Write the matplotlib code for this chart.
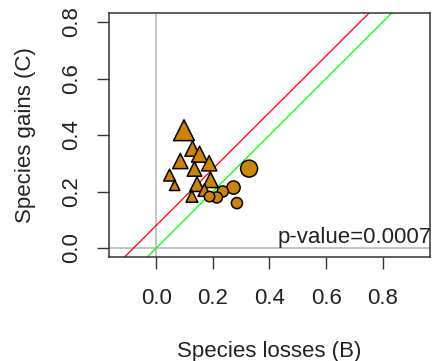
import matplotlib

matplotlib.use("Agg")
import matplotlib.pyplot as plt

plt.rcParams["font.family"] = ["Liberation Sans", "DejaVu Sans"]

# triangles (group 1): losses, gains, marker size
tri_x = [0.098, 0.128, 0.153, 0.085, 0.187, 0.135, 0.047, 0.192, 0.065, 0.144, 0.170, 0.126]
tri_y = [0.417, 0.352, 0.332, 0.308, 0.300, 0.280, 0.258, 0.241, 0.222, 0.226, 0.205, 0.183]
tri_size = [15, 11, 11.5, 11, 11, 10.5, 8.5, 11, 7.5, 10.5, 9, 8.5]

# circles (group 2)
circ_x = [0.328, 0.273, 0.235, 0.214, 0.188, 0.285]
circ_y = [0.281, 0.214, 0.200, 0.179, 0.182, 0.159]
circ_size = [12.2, 9.5, 8, 8, 7.5, 8]

# fitted line (slope 1) and 1:1 reference
fit_intercept = 0.08
ref_intercept = 0.0
p_label = "p-value=0.0007"

fill = "#CD8500"

fig = plt.figure(figsize=(4.32, 3.61), dpi=100)
ax = fig.add_axes([0.2523, 0.288, 0.743, 0.676])

ax.axvline(0, color="#BEBEBE", lw=1.3, zorder=1)
ax.axhline(0, color="#BEBEBE", lw=1.3, zorder=1)
ax.axline((0, fit_intercept), slope=1, color="red", lw=0.9, zorder=2)
ax.axline((0, ref_intercept), slope=1, color="#00FF00", lw=0.9, zorder=2)

ax.scatter(tri_x, tri_y, s=[m ** 2 for m in tri_size], marker="^",
           color=fill, edgecolor="black", linewidth=1.1, zorder=3)
ax.scatter(circ_x, circ_y, s=[m ** 2 for m in circ_size], marker="o",
           color=fill, edgecolor="black", linewidth=1.1, zorder=3)

ax.text(0.70, 0.036, p_label, ha="center", va="center", fontsize=16,
        color="#222222", clip_on=False, zorder=4)

ax.set_xlim(-0.167, 0.967)
ax.set_ylim(-0.032, 0.832)
ticks = [0.0, 0.2, 0.4, 0.6, 0.8]
ax.set_xticks(ticks)
ax.set_yticks(ticks)
ax.set_xticklabels([f"{t:.1f}" for t in ticks])
ax.set_yticklabels([f"{t:.1f}" for t in ticks], rotation=90, va="center")
ax.tick_params(axis="both", direction="out", length=8.6, width=1.0,
               labelsize=16, color="#333333", labelcolor="#222222")
ax.tick_params(axis="x", pad=14)
ax.tick_params(axis="y", pad=10.5)
for sp in ax.spines.values():
    sp.set_linewidth(1.1)
    sp.set_color("#333333")

ax.set_xlabel("Species losses (B)", fontsize=16, color="#222222", labelpad=23)
ax.set_ylabel("Species gains (C)", fontsize=16, color="#222222", labelpad=18)

fig.savefig("out.png", dpi=100)
